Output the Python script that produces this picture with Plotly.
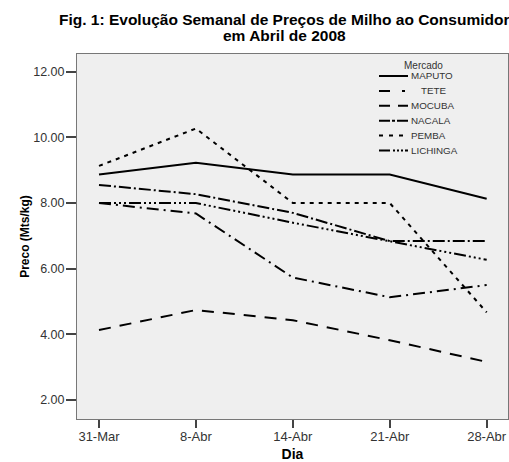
import plotly.graph_objects as go

dias = ["31-Mar", "8-Abr", "14-Abr", "21-Abr", "28-Abr"]
maputo = [8.87, 9.23, 8.87, 8.87, 8.13]
tete = [8.00, 7.68, 5.73, 5.13, 5.50]
mocuba = [4.13, 4.74, 4.43, 3.82, 3.16]
nacala = [8.55, 8.27, 7.70, 6.84, 6.84]
pemba = [9.13, 10.27, 8.00, 8.00, 4.67]
lichinga = [8.00, 8.00, 7.40, 6.84, 6.27]

series_names = ["MAPUTO", "TETE", "MOCUBA", "NACALA", "PEMBA", "LICHINGA"]
series_values = [maputo, tete, mocuba, nacala, pemba, lichinga]
dashes = ["solid", "12px,5px,2px,5px", "12px,9px", "12px,3px,2px,3px",
          "4px,5px", "12px,3px,2px,3px,2px,3px,2px,3px"]
legend_dashes = ["solid", "11px,12px,3px", "11px,8px", "11px,2px,3px,2px",
                 "4px,6px", "11px,3px,2px,2px,2px,2px,2px,2px"]

# plot area in pixels
PL, PR, PT, PB = 77, 508, 54, 419
W, H = PR - PL, PB - PT


def px(x):
    return (x - PL) / W


def py(y):
    return (PB - y) / H


fig = go.Figure()
for name, vals, dash in zip(series_names, series_values, dashes):
    fig.add_trace(go.Scatter(
        x=list(range(len(dias))), y=vals, name=name, mode="lines",
        line=dict(color="black", width=2, dash=dash), showlegend=False,
    ))

font_family = "Arial, Liberation Sans, sans-serif"

# manual legend (matches the compact SPSS legend)
annotations = [dict(
    text="Mercado", x=px(423), y=py(65), xref="paper", yref="paper",
    xanchor="center", yanchor="middle", showarrow=False,
    font=dict(size=10, color="#333", family=font_family),
)]
shapes = []
for i, (name, ld) in enumerate(zip(series_names, legend_dashes)):
    yy = 76 + i * 14.9
    shapes.append(dict(
        type="line", xref="paper", yref="paper",
        x0=px(379), x1=px(408), y0=py(yy), y1=py(yy),
        line=dict(color="black", width=2, dash=ld),
    ))
    tx = 419 if name == "TETE" else 409
    annotations.append(dict(
        text=name, x=px(tx), y=py(yy), xref="paper", yref="paper",
        xanchor="left", yanchor="middle", showarrow=False,
        font=dict(size=9.8, color="#333", family=font_family),
    ))

title_lines = ["Fig. 1: Evolução Semanal de Preços de Milho ao Consumidor",
               "em Abril de 2008"]
for line, yc in zip(title_lines, [19.5, 35.5]):
    annotations.append(dict(
        text="<b>" + line + "</b>",
        x=px(284), y=py(yc), xref="paper", yref="paper",
        xanchor="center", yanchor="middle", showarrow=False,
        font=dict(size=15.5, color="black", family=font_family),
    ))

fig.update_layout(
    width=509, height=462,
    margin=dict(l=PL, r=509 - PR, t=PT, b=462 - PB, autoexpand=False),
    paper_bgcolor="white",
    plot_bgcolor="#efefef",
    font=dict(family=font_family, color="#222", size=12),
    showlegend=False,
    annotations=annotations,
    shapes=shapes,
    xaxis=dict(
        tickmode="array", tickvals=list(range(len(dias))), ticktext=dias,
        range=[-0.227, 4.22],
        showgrid=False, zeroline=False,
        showline=True, linecolor="#777", linewidth=1, mirror=True,
        ticks="outside", ticklen=8, tickcolor="#444", tickwidth=2,
        tickfont=dict(size=13, color="#333"),
        ticklabelstandoff=-3,
        title=dict(text="<b>Dia</b>", font=dict(size=14, color="black"), standoff=8),
    ),
    yaxis=dict(
        range=[1.42, 12.54],
        tickvals=[2, 4, 6, 8, 10, 12], tickformat=".2f",
        showgrid=False, zeroline=False,
        showline=True, linecolor="#777", linewidth=1, mirror=True,
        ticks="outside", ticklen=10, tickcolor="#444", tickwidth=2,
        tickfont=dict(size=12.5, color="#333"),
        ticklabelstandoff=-1,
        title=dict(text="<b>Preco (Mts/kg)</b>", font=dict(size=12, color="black"), standoff=1),
    ),
)

fig.write_html(
    "out.html",
    config={"displayModeBar": False},
    post_script="document.body.style.margin='0';document.body.style.overflow='hidden';",
)
